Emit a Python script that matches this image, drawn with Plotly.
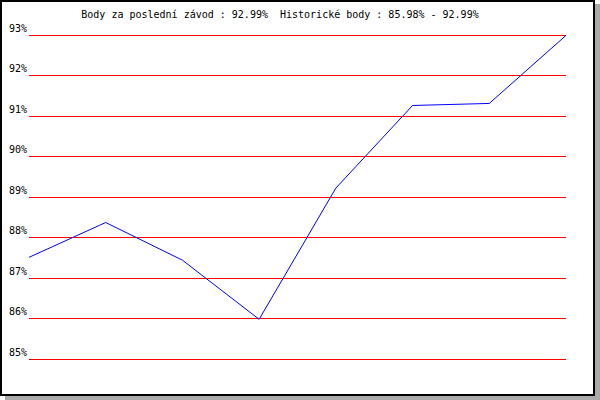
import plotly.graph_objects as go

races = [1, 2, 3, 4, 5, 6, 7, 8]
scores = [87.51, 88.37, 87.44, 85.98, 89.22, 91.26, 91.31, 92.99]
tick_vals = [85, 86, 87, 88, 89, 90, 91, 92, 93]
tick_text = ["85%", "86%", "87%", "88%", "89%", "90%", "91%", "92%", "93%"]
title_text = "Body za poslední závod : 92.99%  Historické body : 85.98% - 92.99%"

W, H = 600, 400
L, R, T, B = 29, 566, 33, 361
PAD = 2 / 40.5  # y-range padding so the edge gridlines are drawn

def px(x):
    return (x - L) / (R - L)

def py(y):
    return (B - y) / (B - T)

fig = go.Figure()
fig.add_trace(go.Scatter(x=races, y=scores, mode="lines",
                         line=dict(color="#0000ff", width=1),
                         hoverinfo="skip"))

fig.update_layout(
    width=W, height=H,
    margin=dict(l=L, r=W - R, t=T, b=H - B, pad=0, autoexpand=False),
    paper_bgcolor="white", plot_bgcolor="rgba(0,0,0,0)",
    showlegend=False,
    font=dict(family="DejaVu Sans Mono", size=10, color="black"),
    title=dict(text=title_text, xref="container", yref="container",
               x=280 / W, y=1 - 14 / H, xanchor="center", yanchor="middle",
               font=dict(family="DejaVu Sans Mono", size=10, color="black")),
    xaxis=dict(range=[races[0], races[-1]], visible=False, showgrid=False,
               zeroline=False, automargin=False),
    yaxis=dict(range=[tick_vals[0] - PAD, tick_vals[-1] + PAD],
               tickvals=tick_vals, ticktext=tick_text,
               showgrid=True, gridcolor="#ff0000", gridwidth=1,
               zeroline=False, showline=False, ticks="", automargin=False,
               ticklabelshift=-7, ticklabelstandoff=1,
               tickfont=dict(family="DejaVu Sans Mono", size=10, color="black")),
    shapes=[
        dict(type="rect", xref="paper", yref="paper", layer="below",
             x0=px(5), x1=px(600), y0=py(4), y1=py(400),
             fillcolor="#aaaaaa", line=dict(width=0)),
        dict(type="rect", xref="paper", yref="paper", layer="below",
             x0=px(1), x1=px(594), y0=py(1), y1=py(395),
             fillcolor="white", line=dict(color="black", width=2)),
    ],
)

fig.write_html(
    "out.html",
    config={"displayModeBar": False},
    post_script="document.body.style.margin='0';document.body.style.overflow='hidden';",
)
